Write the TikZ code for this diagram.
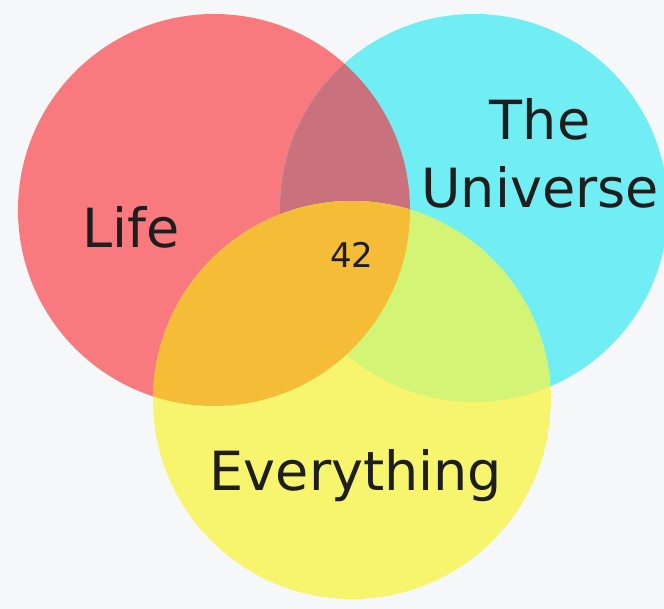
\documentclass[tikz,border=0pt]{standalone}
\usepackage{fontspec}
\setmainfont{DejaVu Sans}
\usepackage{xcolor}
\definecolor{paper}{HTML}{F6F7F8}
\definecolor{ink}{HTML}{1E1E1E}
\definecolor{lifered}{HTML}{F87A7E}
\definecolor{univcyan}{HTML}{70EEF3}
\definecolor{everyellow}{HTML}{F7F56D}
\definecolor{redcyan}{HTML}{C9727D}
\definecolor{redyellow}{HTML}{F5BD37}
\definecolor{cyanyellow}{HTML}{D3F475}

\begin{document}
\begin{tikzpicture}[x=1pt, y=-1pt,
  setname/.style={text=ink, font=\fontsize{54}{60}\selectfont, anchor=base, inner sep=0pt}]
  \useasboundingbox (0,0) rectangle (664,609);
  \fill[paper] (0,0) rectangle (664,609);
  \coordinate (lifeC) at (214,210);
  \coordinate (univC) at (474,208);
  \coordinate (everC) at (352,400);
  % the two upper sets and their overlap
  \fill[lifered] (lifeC) circle[radius=196pt];
  \fill[univcyan] (univC) circle[radius=194pt];
  \begin{scope}
    \clip (lifeC) circle[radius=196pt];
    \fill[redcyan] (univC) circle[radius=194pt];
  \end{scope}
  % the lower set lies over both
  \begin{scope}
    \clip (everC) circle[radius=199pt];
    \fill[everyellow] (everC) circle[radius=199pt];
    \fill[cyanyellow] (univC) circle[radius=194pt];
    \fill[redyellow] (lifeC) circle[radius=196pt];
  \end{scope}
  \node[setname] (life) at (131,248) {Life};
  \node[setname] (the) at (540,140) {The};
  \node[setname] (universe) at (540,208) {Universe};
  \node[setname] (everything) at (356,490) {Everything};
  \node[setname, font=\fontsize{34}{40}\selectfont] (answer) at (352,268) {42};
\end{tikzpicture}
\end{document}
